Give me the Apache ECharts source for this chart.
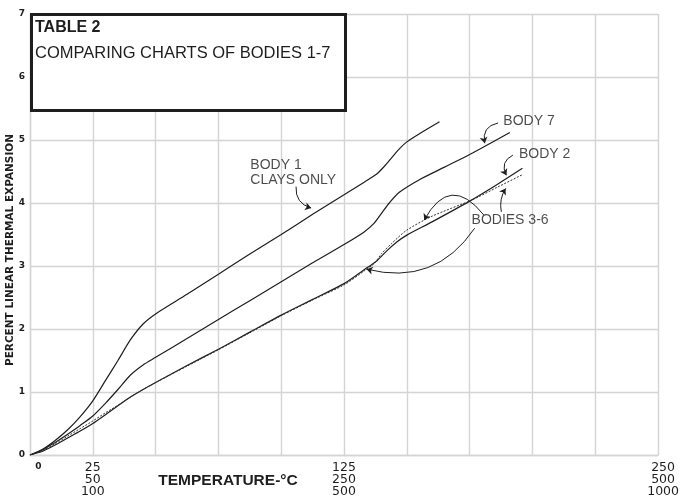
<!DOCTYPE html>
<html>
<head>
<meta charset="utf-8">
<script src="https://cdn.jsdelivr.net/npm/echarts@6/dist/echarts.min.js"></script>
<style>html,body{margin:0;padding:0;background:#fff}#chart{width:682px;height:501px}</style>
</head>
<body>
<div id="chart"></div>
<script>
// ---- data ----
var body1Temp = [0, 5, 10, 15, 20, 25, 30, 35, 40, 45, 50, 62.5, 75, 87.5, 100, 112.5, 125, 133, 138, 141, 144, 147, 150, 155, 163];
var body1Exp  = [0, 0.09, 0.23, 0.4, 0.61, 0.86, 1.18, 1.5, 1.83, 2.08, 2.24, 2.55, 2.87, 3.19, 3.5, 3.82, 4.13, 4.33, 4.46, 4.58, 4.72, 4.86, 4.97, 5.1, 5.29];
var body7Temp = [0, 5, 10, 15, 20, 25, 30, 35, 40, 45, 50, 62.5, 75, 87.5, 100, 112.5, 125, 133, 137, 140, 143, 147, 155, 165, 175, 191];
var body7Exp  = [0, 0.08, 0.2, 0.33, 0.47, 0.62, 0.82, 1.04, 1.27, 1.43, 1.55, 1.85, 2.15, 2.45, 2.75, 3.05, 3.34, 3.54, 3.68, 3.84, 4.0, 4.17, 4.37, 4.57, 4.77, 5.12];
var body2Temp = [0, 5, 10, 15, 20, 25, 30, 35, 40, 45, 50, 62.5, 75, 87.5, 100, 112.5, 125, 133, 138, 142, 146, 150, 160, 175, 185, 196];
var body2Exp  = [0, 0.06, 0.16, 0.27, 0.38, 0.5, 0.64, 0.78, 0.92, 1.04, 1.15, 1.42, 1.68, 1.95, 2.22, 2.47, 2.72, 2.94, 3.08, 3.24, 3.38, 3.49, 3.7, 4.03, 4.27, 4.55];
var bodies36Temp = [0, 5, 10, 15, 20, 25, 30, 35, 40, 45, 50, 62.5, 75, 87.5, 100, 112.5, 125, 133, 137, 140, 144, 150, 160, 176, 186, 196];
var bodies36Exp  = [0, 0.07, 0.18, 0.3, 0.42, 0.54, 0.67, 0.79, 0.92, 1.04, 1.15, 1.41, 1.67, 1.94, 2.21, 2.46, 2.7, 2.92, 3.04, 3.2, 3.36, 3.57, 3.79, 4.05, 4.25, 4.45];

var xTickValues = [0, 25, 125, 250];
var xTickLabels = ['0', '25\n50\n100', '125\n250\n500', '250\n500\n1000'];
var yTickLabels = ['0', '1', '2', '3', '4', '5', '6', '7'];

var titleMain = 'TABLE 2';
var titleSub = 'COMPARING CHARTS OF BODIES 1-7';
var xAxisTitle = 'TEMPERATURE-°C';
var yAxisTitle = 'PERCENT LINEAR THERMAL EXPANSION';

// annotation labels: text, anchor temp, anchor expansion
var noteTexts = ['BODY 1\nCLAYS ONLY', 'BODY 7', 'BODY 2', 'BODIES 3-6'];
var noteX = [87.7, 188.4, 194.6, 175.75];
var noteY = [4.484, 5.294, 4.778, 3.73];

// annotation arrows: start temp/exp -> end temp/exp, curvature
var arrowX1 = [105.9, 186.3, 192.2, 180.6, 187.6, 177.0];
var arrowY1 = [4.26, 5.27, 4.76, 3.81, 3.86, 3.6];
var arrowX2 = [111.9, 181.0, 189.6, 156.9, 189.3, 134.0];
var arrowY2 = [3.92, 4.95, 4.44, 3.73, 4.23, 2.95];
var arrowCurve = [-0.4, -0.5, -0.5, -0.75, 0.2, 0.35];

function pairs(xs, ys) { return xs.map(function (x, i) { return [x, ys[i]]; }); }

var chart = echarts.init(document.getElementById('chart'));
var ink = '#1e1e1e';
var gridColor = '#d4d4d4';

var lineBase = {
  type: 'line', smooth: 0.25, showSymbol: false, symbol: 'none', silent: true, z: 3
};

var option = {
  animation: false,
  backgroundColor: '#fff',
  grid: { left: 30, right: 19, top: 14, bottom: 46, containLabel: false },
  xAxis: {
    type: 'value', min: 0, max: 250, interval: 25,
    axisLine: { show: true, lineStyle: { color: gridColor, width: 1.4 } },
    axisTick: { show: false },
    splitLine: { show: true, lineStyle: { color: gridColor, width: 1.4 } },
    axisLabel: {
      show: true, margin: 7, interval: 0, showMinLabel: true, showMaxLabel: true,
      color: ink, fontFamily: 'DejaVu Sans', fontSize: 12.5, lineHeight: 12, align: 'center', verticalAlign: 'top',
      formatter: function (v) {
        var i = xTickValues.indexOf(v);
        if (i < 0) return '';
        if (i === 0) return '{z|' + xTickLabels[i] + '}';
        if (i === xTickValues.length - 1) return '{r|' + xTickLabels[i] + '}';
        return xTickLabels[i];
      },
      rich: {
        z: { fontFamily: 'DejaVu Sans', fontWeight: 'bold', fontSize: 9, lineHeight: 9, padding: [0, 0, 0, 17], color: ink },
        r: { fontFamily: 'DejaVu Sans', fontSize: 12.5, lineHeight: 12, padding: [0, 0, 0, 10], color: ink }
      }
    }
  },
  yAxis: {
    type: 'value', min: 0, max: 7, interval: 1,
    axisLine: { show: true, lineStyle: { color: gridColor, width: 1.4 } },
    axisTick: { show: false },
    splitLine: { show: true, lineStyle: { color: gridColor, width: 1.4 } },
    axisLabel: {
      margin: 5, color: ink, fontFamily: 'DejaVu Sans', fontWeight: 'bold', fontSize: 9,
      formatter: function (v) { return yTickLabels[v] !== undefined ? yTickLabels[v] : ''; }
    }
  },
  graphic: [
    { type: 'rect', z: 50, shape: { x: 31.5, y: 14.5, width: 314, height: 96 },
      style: { fill: '#fff', stroke: ink, lineWidth: 3 } },
    { type: 'text', z: 51, x: 35, y: 27.5,
      style: { text: titleMain, fill: ink, font: 'bold 16px "Liberation Sans"', verticalAlign: 'middle', align: 'left' } },
    { type: 'text', z: 51, x: 35, y: 53.5,
      style: { text: titleSub, fill: ink, font: '16.5px "Liberation Sans"', verticalAlign: 'middle', align: 'left' } },
    { type: 'text', z: 51, x: 228, y: 481,
      style: { text: xAxisTitle, fill: ink, font: 'bold 15.5px "Liberation Sans"', verticalAlign: 'middle', align: 'center' } },
    { type: 'text', z: 51, x: 10, y: 250, rotation: Math.PI / 2,
      style: { text: yAxisTitle, fill: ink, font: 'bold 10.5px "DejaVu Sans"', verticalAlign: 'middle', align: 'center' } }
  ],
  series: [
    Object.assign({}, lineBase, { name: 'Body 1', data: pairs(body1Temp, body1Exp), lineStyle: { color: ink, width: 1.2 } }),
    Object.assign({}, lineBase, { name: 'Body 7', data: pairs(body7Temp, body7Exp), lineStyle: { color: ink, width: 1.2 } }),
    Object.assign({}, lineBase, { name: 'Body 2', data: pairs(body2Temp, body2Exp), lineStyle: { color: ink, width: 1.2 } }),
    Object.assign({}, lineBase, { name: 'Bodies 3-6', data: pairs(bodies36Temp, bodies36Exp), lineStyle: { color: '#333', width: 1, type: [2, 1.5] } }),
    {
      type: 'lines', coordinateSystem: 'cartesian2d', silent: true, z: 4,
      symbol: ['none', 'arrow'], symbolSize: 6,
      lineStyle: { color: ink, width: 1, opacity: 1 },
      data: arrowX1.map(function (x, i) {
        return { coords: [[x, arrowY1[i]], [arrowX2[i], arrowY2[i]]], lineStyle: { curveness: arrowCurve[i] } };
      })
    },
    {
      type: 'scatter', silent: true, z: 5, symbolSize: 0,
      data: noteTexts.map(function (t, i) { return { name: t, value: [noteX[i], noteY[i]] }; }),
      label: {
        show: true, position: 'inside', formatter: function (p) { return p.name; },
        align: 'left', verticalAlign: 'middle', color: ink,
        fontFamily: 'Liberation Sans', fontSize: 14, lineHeight: 14.5
      }
    }
  ]
};
chart.setOption(option);
</script>
</body>
</html>
